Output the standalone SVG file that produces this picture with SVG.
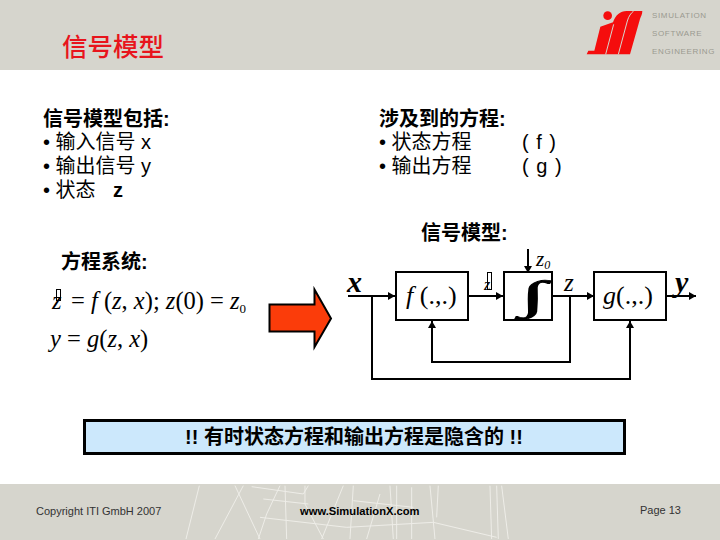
<svg xmlns="http://www.w3.org/2000/svg" width="720" height="540" viewBox="0 0 720 540">
<defs>
<marker id="ah" markerUnits="userSpaceOnUse" markerWidth="8" markerHeight="8" refX="7" refY="4" orient="auto"><path d="M0,0 L7,4 L0,8 Z" fill="#000"/></marker>
</defs>
<style>
.cjk{font-family:"Liberation Sans","Noto Sans CJK SC",sans-serif;fill:#000}
.b{font-weight:700;font-size:20px}
.r{font-size:20px;font-weight:400}
.brand{font-family:"Liberation Sans",sans-serif;font-size:8px;fill:#9a9a90;letter-spacing:.65px}
.foot{font-family:"Liberation Sans",sans-serif;font-size:11px;fill:#333}
.m{font-family:"Liberation Serif",serif;font-size:24.500px;fill:#000}
.n{font-family:"Liberation Serif",serif;font-size:26px;fill:#000}
.i{font-style:italic}
.wire{fill:none;stroke:#000;stroke-width:2}
.box{fill:#fff;stroke:#000;stroke-width:2}
.tex{fill:none;stroke:#eeede8;stroke-width:3}
</style>
<g id="header">
<rect x="0" y="0" width="720" height="70" fill="#d6d5cd"/>
<text x="62" y="56" font-family="'Liberation Sans','Noto Sans CJK SC',sans-serif" font-size="25.500" font-weight="500" fill="#e8141c">信号模型</text>
<g id="logo" transform="translate(585 5) scale(.3333)">
<circle cx="68" cy="32" r="13" fill="#f50d0d"/>
<path fill="#f50d0d" d="M5,148 L10,137 L28,137 L46,65 L84,52 C92,30 105,18 125,18 L172,18 C172,28 168,34 165,42 L135,148 Z"/>
<path fill="none" stroke="#d6d5cd" stroke-width="3" d="M62,148 L86,58 M100,148 L127,48 C131,34 138,24 146,18"/>
</g>
<text class="brand" x="652" y="18">SIMULATION</text>
<text class="brand" x="652" y="36">SOFTWARE</text>
<text class="brand" x="652" y="54">ENGINEERING</text>
</g>
<g id="footer">
<rect x="0" y="484" width="720" height="56" fill="#d6d5cd"/>
<path class="tex" transform="translate(180 484) scale(.3333)" d="M58,5 L18,165 M190,5 L105,165 M165,5 L240,165 M215,8 L370,30 L385,5 M250,45 L385,60 M240,100 L500,130 L760,115 L950,160 M300,5 L260,90 L235,165 M315,5 L320,165 M375,5 L375,60 L430,165 M490,5 L425,165 M520,5 L510,165 M520,50 L700,70 M600,30 L560,165 M630,5 L640,165 M650,5 L650,165 M695,10 L695,165 M750,5 L765,165 M775,5 L770,100 M930,5 L935,165 M950,5 L955,165 M965,5 L985,165"/>
<text class="foot" x="36" y="515">Copyright ITI GmbH 2007</text>
<text x="300" y="515" font-family="'Liberation Sans',sans-serif" font-size="11.200" font-weight="700" fill="#000">www.SimulationX.com</text>
<text class="foot" x="640" y="514">Page 13</text>
</g>
<g id="inputs">
<text class="cjk b" x="43" y="126">信号模型包括:</text>
<text class="cjk r" x="43" y="149">• 输入信号 x</text>
<text class="cjk r" x="43" y="173">• 输出信号 y</text>
<text class="cjk r" x="43" y="197">• 状态 <tspan x="113" font-weight="700">z</tspan></text>
</g>
<g id="equations-list">
<text class="cjk b" x="379" y="126">涉及到的方程:</text>
<text class="cjk r" x="379" y="149">• 状态方程<tspan x="522" letter-spacing="1">( f )</tspan></text>
<text class="cjk r" x="379" y="173">• 输出方程<tspan x="522" letter-spacing="1">( g )</tspan></text>
</g>
<g id="sys-label"><text class="cjk b" x="61" y="269">方程系统:</text></g>
<g id="model-label"><text class="cjk b" x="421" y="240">信号模型:</text></g>
<g id="equations">
<rect x="56.500" y="289.500" width="4" height="11" fill="none" stroke="#000"/>
<text class="m i" x="52" y="309">z</text>
<text class="m" x="71" y="309">= <tspan class="i">f</tspan> (<tspan class="i">z</tspan>, <tspan class="i">x</tspan>); <tspan class="i">z</tspan>(0) = <tspan class="i">z</tspan><tspan font-size="13" dy="4">0</tspan></text>
<text class="m" x="50" y="347"><tspan class="i">y</tspan> = <tspan class="i">g</tspan>(<tspan class="i">z</tspan>, <tspan class="i">x</tspan>)</text>
</g>
<g id="big-arrow"><path d="M269.500,304.500 H314.500 V289.500 L331,318.500 L314.500,347 V331.500 H269.500 Z" fill="#fb3c0a" stroke="#000" stroke-width="2"/></g>
<g id="connectors">
<path class="wire" marker-end="url(#ah)" d="M348,296 H395"/>
<path class="wire" marker-end="url(#ah)" d="M468,296 H503"/>
<path class="wire" marker-end="url(#ah)" d="M552,296 H594"/>
<path class="wire" marker-end="url(#ah)" d="M666,296 H696"/>
<path class="wire" marker-end="url(#ah)" d="M528,249 V273"/>
<path class="wire" marker-end="url(#ah)" d="M570,296 V362 H432 V321"/>
<path class="wire" marker-end="url(#ah)" d="M372,296 V379 H630 V321"/>
</g>
<g id="node-f"><rect class="box" x="396" y="272" width="72" height="48"/><text class="n" x="406" y="304"><tspan class="i">f</tspan> (.,.)</text></g>
<g id="node-int"><rect class="box" x="504" y="272" width="48" height="48"/><text transform="translate(533 309) scale(1.900 .8)" text-anchor="middle" font-family="'Liberation Serif',serif" font-size="50" font-weight="700" fill="#000" stroke="#000" stroke-width="1">∫</text></g>
<g id="node-g"><rect class="box" x="594" y="272" width="72" height="48"/><text class="n" x="603" y="304"><tspan class="i">g</tspan>(.,.)</text></g>
<g id="labels">
<text x="347" y="292" font-family="'Liberation Serif',serif" font-size="30" font-style="italic" font-weight="700" fill="#000">x</text>
<text x="675" y="292" font-family="'Liberation Serif',serif" font-size="30" font-style="italic" font-weight="700" fill="#000">y</text>
<rect x="487.500" y="272.500" width="4" height="17" fill="none" stroke="#000"/>
<text class="i" x="484" y="290" font-family="'Liberation Serif',serif" font-size="16" fill="#000">z</text>
<text class="i" x="564" y="291" font-family="'Liberation Serif',serif" font-size="25" fill="#000">z</text>
<text class="i" x="536" y="266" font-family="'Liberation Serif',serif" font-size="21" fill="#000">z<tspan font-size="12" dy="3">0</tspan></text>
</g>
<g id="note">
<rect x="84.500" y="420.500" width="540" height="33" fill="#cce8fc" stroke="#000" stroke-width="3"/>
<text x="354" y="444" text-anchor="middle" font-family="'Liberation Sans','Noto Sans CJK SC',sans-serif" font-size="20" font-weight="700" fill="#000">!! 有时状态方程和输出方程是隐含的 !!</text>
</g>
</svg>
